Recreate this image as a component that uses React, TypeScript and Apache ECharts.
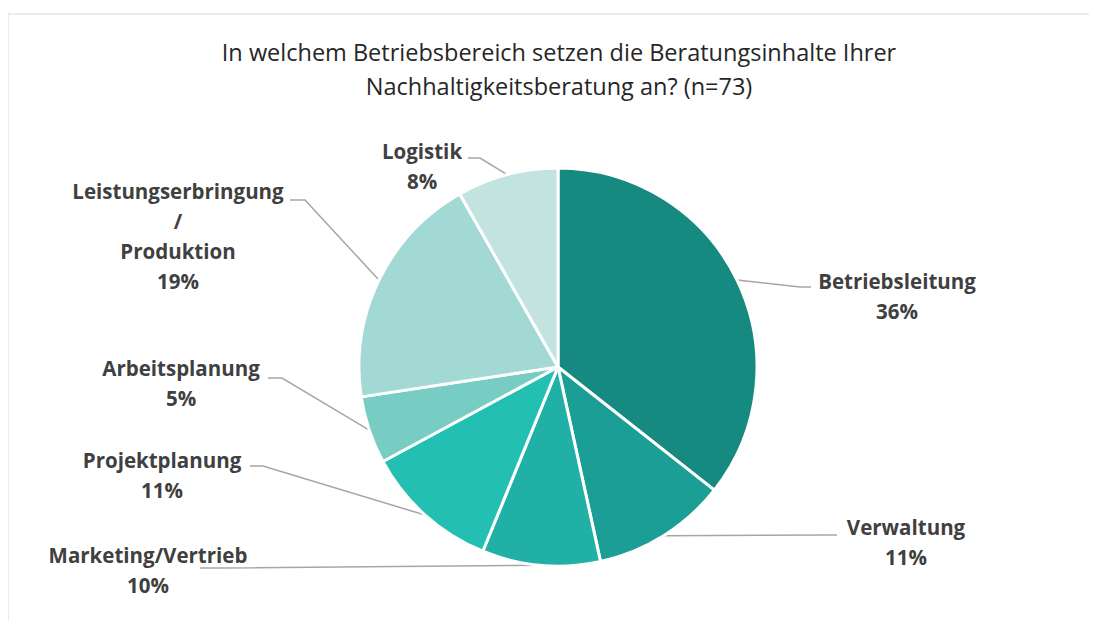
import React, { useEffect, useRef } from "react";
import * as echarts from "echarts";

const TITLE_LINES = [
  "In welchem Betriebsbereich setzen die Beratungsinhalte Ihrer",
  "Nachhaltigkeitsberatung an? (n=73)",
];
const CATEGORIES = [
  "Betriebsleitung",
  "Verwaltung",
  "Marketing/Vertrieb",
  "Projektplanung",
  "Arbeitsplanung",
  "Leistungserbringung / Produktion",
  "Logistik",
];
const COUNTS = [26, 8, 7, 8, 4, 14, 6];
const COLORS = ["#168a80", "#1b9e95", "#20b0a6", "#23bfb3", "#77cdc3", "#a3d9d4", "#c2e3e0"];

// label centre positions (layout)
const LABEL_POS: [number, number][] = [
  [889, 288],
  [898, 534],
  [140, 562],
  [154, 467],
  [173, 375],
  [170, 228],
  [414, 158],
];
// leader line bend and end points (layout)
const LEADER_BEND: [number, number][] = [
  [792, 279],
  [818, 527],
  [212, 560],
  [255, 458],
  [274, 370],
  [297, 192],
  [472, 150],
];
const LEADER_END: [number, number][] = [
  [803, 279],
  [829, 527],
  [192, 560],
  [242, 458],
  [260, 370],
  [282, 192],
  [460, 150],
];

const FONT = "'Open Sans', 'Noto Sans', sans-serif";

export default function App() {
  const ref = useRef<HTMLDivElement>(null);
  useEffect(() => {
    if (!ref.current) return;
    const chart = echarts.init(ref.current, undefined, { renderer: "svg" });
    chart.setOption({
      animation: false,
      backgroundColor: "#ffffff",
      graphic: [
        {
          type: "rect",
          shape: { x: 0, y: 6, width: 1200, height: 700 },
          style: { fill: "none", stroke: "#d9d9d9", lineWidth: 1 },
          silent: true,
        },
        {
          type: "text",
          x: 551,
          y: 27,
          style: {
            text: TITLE_LINES.join("\n"),
            fontFamily: FONT,
            fontSize: 23.5,
            lineHeight: 34,
            fill: "#262626",
            textAlign: "center",
            textVerticalAlign: "top",
          },
        },
      ],
      series: [
        {
          type: "pie",
          center: [550, 359],
          radius: [0, 199],
          startAngle: 90,
          clockwise: true,
          percentPrecision: 0,
          itemStyle: { borderColor: "#ffffff", borderWidth: 3 },
          label: {
            show: true,
            formatter: (p: any) => `${p.name.replace(" / ", "\n/\n")}\n${p.percent}%`,
            fontFamily: FONT,
            fontSize: 20.5,
            fontWeight: "bold",
            lineHeight: 30,
            color: "#404040",
            align: "center",
          },
          labelLine: {
            show: true,
            length: 20,
            length2: 20,
            lineStyle: { color: "#a6a6a6", width: 1.5 },
          },
          labelLayout: (params: any) => {
            const i = params.dataIndex;
            const pos = LABEL_POS[i];
            const start = params.labelLinePoints ? params.labelLinePoints[0] : null;
            const res: any = {
              x: pos[0],
              y: pos[1],
              align: "center",
              verticalAlign: "middle",
            };
            if (start) {
              res.labelLinePoints = [
                [start[0], start[1]],
                LEADER_BEND[i],
                LEADER_END[i],
              ];
            }
            return res;
          },
          data: CATEGORIES.map((name, i) => ({
            name,
            value: COUNTS[i],
            itemStyle: { color: COLORS[i] },
          })),
        },
      ],
    });
    return () => chart.dispose();
  }, []);
  return <div ref={ref} style={{ width: 1089, height: 613 }} />;
}
